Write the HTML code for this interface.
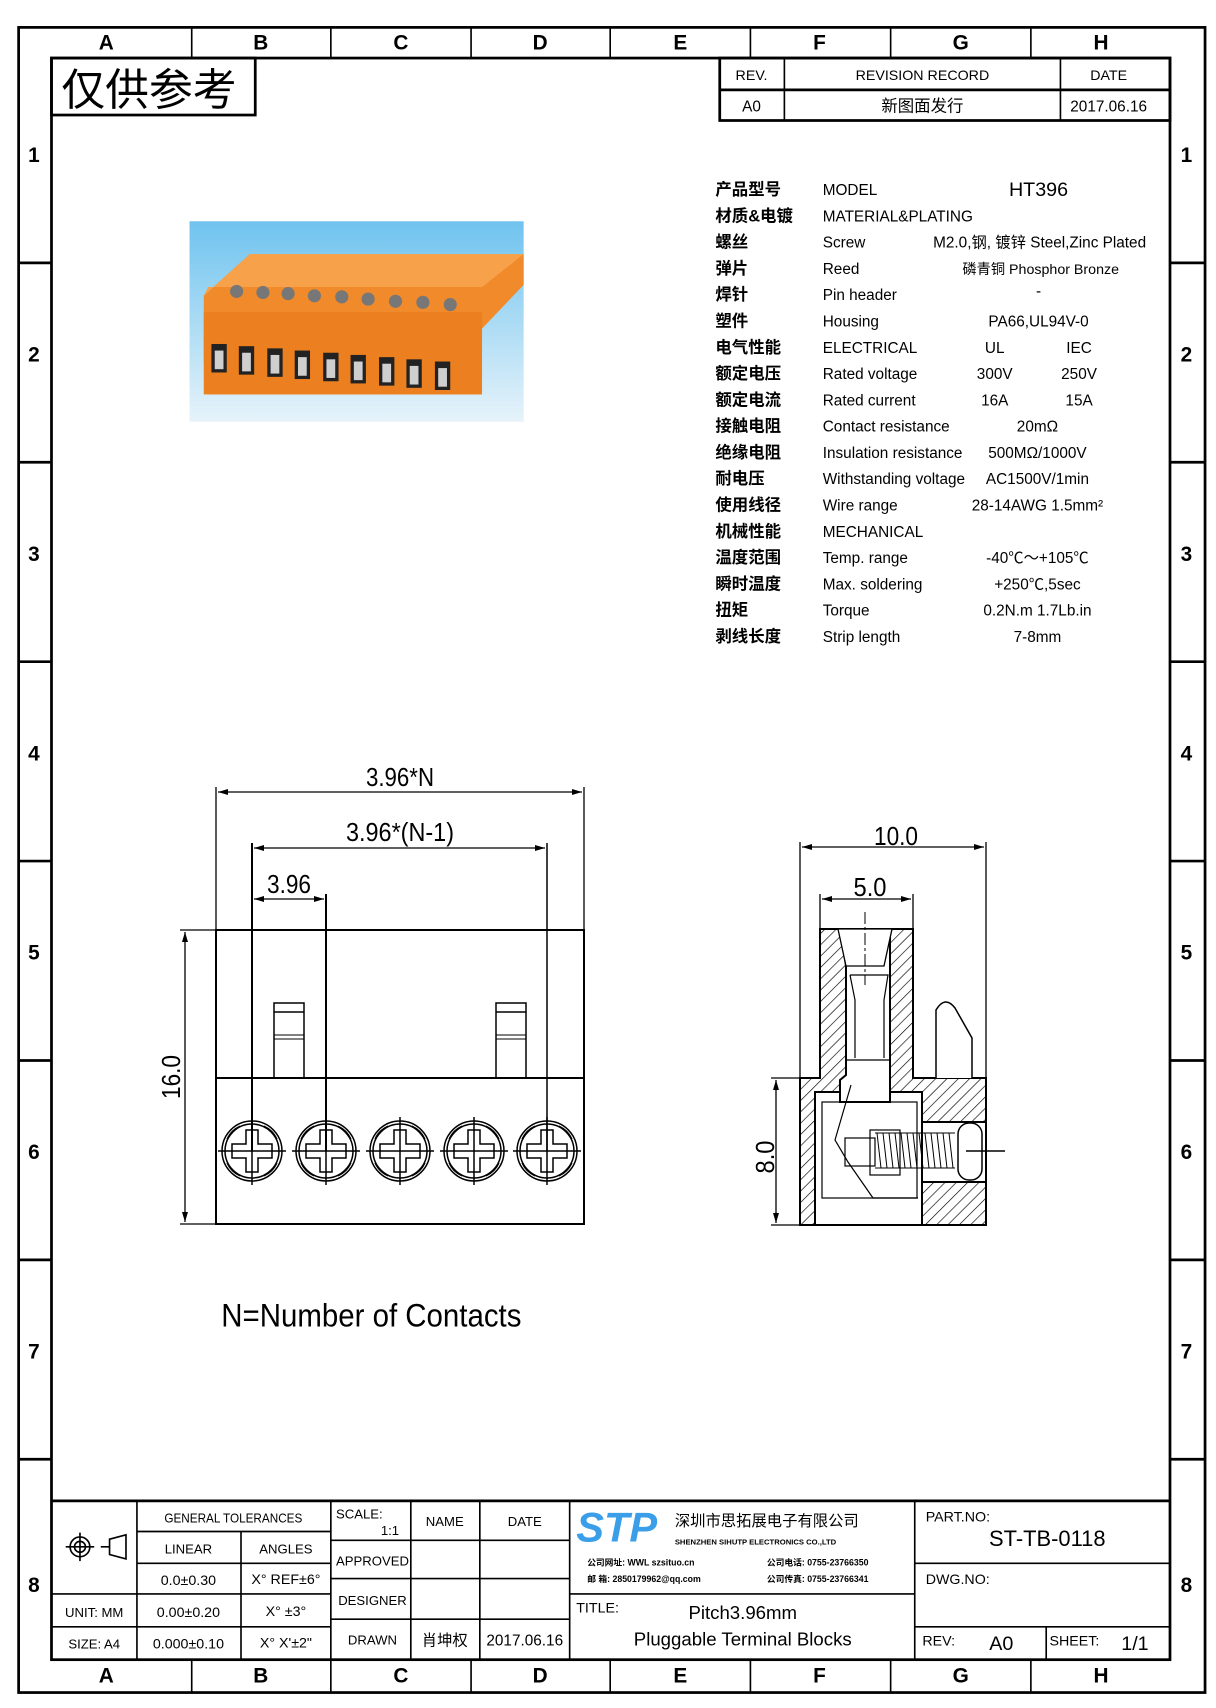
<!DOCTYPE html>
<html><head><meta charset="utf-8"><style>
html,body{margin:0;padding:0;background:#fff;}
svg{display:block;}
text{font-family:"Liberation Sans Narrow","Liberation Sans","Noto Sans CJK SC",sans-serif;fill:#000;}
</style></head><body>
<svg width="1216" height="1708" viewBox="0 0 1216 1708" xmlns="http://www.w3.org/2000/svg">
<defs>
<pattern id="h" width="8" height="8" patternUnits="userSpaceOnUse" patternTransform="rotate(45)">
<line x1="0" y1="0" x2="0" y2="8" stroke="#000" stroke-width="1.3"/></pattern>
<linearGradient id="bg" x1="0" y1="0" x2="0" y2="1"><stop offset="0" stop-color="#6fc3ef"/><stop offset="1" stop-color="#e6f3fa"/></linearGradient>
<marker id="a" markerWidth="10" markerHeight="6" refX="10" refY="3" orient="auto-start-reverse" markerUnits="userSpaceOnUse"><path d="M0,0 L10,3 L0,6z" fill="#000"/></marker>
</defs>
<g transform="scale(1.0955)">
<rect x="17" y="25" width="1083" height="1520" fill="none" stroke="#000" stroke-width="2.5"/>
<rect x="47" y="53" width="1021" height="1462" fill="none" stroke="#000" stroke-width="2.5"/>
<g stroke="#000" stroke-width="1.5">
<line x1="175" y1="25" x2="175" y2="53"/><line x1="302" y1="25" x2="302" y2="53"/><line x1="430" y1="25" x2="430" y2="53"/><line x1="557" y1="25" x2="557" y2="53"/><line x1="685" y1="25" x2="685" y2="53"/><line x1="813" y1="25" x2="813" y2="53"/><line x1="941" y1="25" x2="941" y2="53"/>
<line x1="175" y1="1515" x2="175" y2="1545"/><line x1="302" y1="1515" x2="302" y2="1545"/><line x1="430" y1="1515" x2="430" y2="1545"/><line x1="557" y1="1515" x2="557" y2="1545"/><line x1="685" y1="1515" x2="685" y2="1545"/><line x1="813" y1="1515" x2="813" y2="1545"/><line x1="941" y1="1515" x2="941" y2="1545"/>
</g>
<g stroke="#000" stroke-width="2.5">
<line x1="17" y1="240" x2="47" y2="240"/><line x1="17" y1="422" x2="47" y2="422"/><line x1="17" y1="604" x2="47" y2="604"/><line x1="17" y1="786" x2="47" y2="786"/><line x1="17" y1="968" x2="47" y2="968"/><line x1="17" y1="1150" x2="47" y2="1150"/><line x1="17" y1="1332" x2="47" y2="1332"/>
<line x1="1068" y1="240" x2="1100" y2="240"/><line x1="1068" y1="422" x2="1100" y2="422"/><line x1="1068" y1="604" x2="1100" y2="604"/><line x1="1068" y1="786" x2="1100" y2="786"/><line x1="1068" y1="968" x2="1100" y2="968"/><line x1="1068" y1="1150" x2="1100" y2="1150"/><line x1="1068" y1="1332" x2="1100" y2="1332"/>
</g>
<g font-size="19" font-weight="bold" text-anchor="middle">
<text x="97" y="45">A</text><text x="238" y="45">B</text><text x="366" y="45">C</text><text x="493" y="45">D</text><text x="621" y="45">E</text><text x="748" y="45">F</text><text x="877" y="45">G</text><text x="1005" y="45">H</text>
<text x="97" y="1536">A</text><text x="238" y="1536">B</text><text x="366" y="1536">C</text><text x="493" y="1536">D</text><text x="621" y="1536">E</text><text x="748" y="1536">F</text><text x="877" y="1536">G</text><text x="1005" y="1536">H</text>
<text x="31" y="148">1</text><text x="31" y="330">2</text><text x="31" y="512">3</text><text x="31" y="694">4</text><text x="31" y="876">5</text><text x="31" y="1058">6</text><text x="31" y="1240">7</text><text x="31" y="1453">8</text>
<text x="1083" y="148">1</text><text x="1083" y="330">2</text><text x="1083" y="512">3</text><text x="1083" y="694">4</text><text x="1083" y="876">5</text><text x="1083" y="1058">6</text><text x="1083" y="1240">7</text><text x="1083" y="1453">8</text>
</g>
<rect x="47" y="53" width="186" height="52" fill="none" stroke="#000" stroke-width="2.5"/>
<text x="56" y="96" font-size="40" font-family="Noto Sans CJK SC,sans-serif">仅供参考</text>
<g stroke="#000" stroke-width="2.5" fill="none"><rect x="657" y="53" width="411" height="57"/><line x1="657" y1="82" x2="1068" y2="82"/><line x1="716" y1="53" x2="716" y2="110" stroke-width="1.5"/><line x1="968" y1="53" x2="968" y2="110" stroke-width="1.5"/></g>
<g font-size="13" text-anchor="middle">
<text x="686" y="73">REV.</text><text x="842" y="73">REVISION RECORD</text><text x="1012" y="73">DATE</text>
<text x="686" y="102" font-size="14">A0</text><text x="842" y="102" font-size="15">新图面发行</text><text x="1012" y="102" font-size="14">2017.06.16</text>
</g>
<rect x="173" y="202" width="305" height="183" fill="url(#bg)"/>
<polygon points="186,270 228,232 478,232 478,260 440,300 440,360 190,360 186,330" fill="#f08a2a"/>
<polygon points="186,270 228,232 478,232 440,262 190,262" fill="#f7a24a"/>
<rect x="186" y="285" width="254" height="75" fill="#ec7f1f"/>
<g fill="#222"><rect x="193" y="314" width="14" height="26"/><rect x="218" y="316" width="14" height="26"/><rect x="244" y="318" width="14" height="26"/><rect x="269" y="320" width="14" height="26"/><rect x="295" y="322" width="14" height="26"/><rect x="320" y="324" width="14" height="26"/><rect x="346" y="326" width="14" height="26"/><rect x="371" y="328" width="14" height="26"/><rect x="397" y="330" width="14" height="26"/></g>
<g fill="#cfcfcf"><rect x="196" y="320" width="8" height="17"/><rect x="221" y="322" width="8" height="17"/><rect x="247" y="324" width="8" height="17"/><rect x="272" y="326" width="8" height="17"/><rect x="298" y="328" width="8" height="17"/><rect x="323" y="330" width="8" height="17"/><rect x="349" y="332" width="8" height="17"/><rect x="374" y="334" width="8" height="17"/><rect x="400" y="336" width="8" height="17"/></g>
<g fill="#777"><circle cx="216" cy="266" r="6"/><circle cx="240" cy="267" r="6"/><circle cx="263" cy="268" r="6"/><circle cx="287" cy="270" r="6"/><circle cx="312" cy="271" r="6"/><circle cx="336" cy="273" r="6"/><circle cx="361" cy="275" r="6"/><circle cx="386" cy="276" r="6"/><circle cx="411" cy="278" r="6"/></g>
<g font-size="15" font-weight="bold">
<text x="653" y="178">产品型号</text><text x="653" y="202">材质&amp;电镀</text><text x="653" y="226">螺丝</text><text x="653" y="250">弹片</text><text x="653" y="274">焊针</text><text x="653" y="298">塑件</text><text x="653" y="322">电气性能</text><text x="653" y="346">额定电压</text><text x="653" y="370">额定电流</text><text x="653" y="394">接触电阻</text><text x="653" y="418">绝缘电阻</text><text x="653" y="442">耐电压</text><text x="653" y="466">使用线径</text><text x="653" y="490">机械性能</text><text x="653" y="514">温度范围</text><text x="653" y="538">瞬时温度</text><text x="653" y="562">扭矩</text><text x="653" y="586">剥线长度</text>
</g>
<g font-size="14">
<text x="751" y="178">MODEL</text><text x="751" y="202">MATERIAL&amp;PLATING</text><text x="751" y="226">Screw</text><text x="751" y="250">Reed</text><text x="751" y="274">Pin header</text><text x="751" y="298">Housing</text><text x="751" y="322">ELECTRICAL</text><text x="751" y="346">Rated voltage</text><text x="751" y="370">Rated current</text><text x="751" y="394">Contact resistance</text><text x="751" y="418">Insulation resistance</text><text x="751" y="442">Withstanding voltage</text><text x="751" y="466">Wire range</text><text x="751" y="490">MECHANICAL</text><text x="751" y="514">Temp. range</text><text x="751" y="538">Max. soldering</text><text x="751" y="562">Torque</text><text x="751" y="586">Strip length</text>
</g>
<g font-size="14" text-anchor="middle">
<text x="948" y="179" font-size="18">HT396</text>
<text x="949" y="226">M2.0,钢, 镀锌 Steel,Zinc Plated</text>
<text x="950" y="250" font-size="13">磷青铜 Phosphor Bronze</text>
<text x="948" y="270">-</text>
<text x="948" y="298">PA66,UL94V-0</text>
<text x="908" y="322">UL</text><text x="985" y="322">IEC</text>
<text x="908" y="346">300V</text><text x="985" y="346">250V</text>
<text x="908" y="370">16A</text><text x="985" y="370">15A</text>
<text x="947" y="394">20mΩ</text>
<text x="947" y="418">500MΩ/1000V</text>
<text x="947" y="442">AC1500V/1min</text>
<text x="947" y="466">28-14AWG 1.5mm²</text>
<text x="947" y="514">-40℃～+105℃</text>
<text x="947" y="538">+250℃,5sec</text>
<text x="947" y="562">0.2N.m 1.7Lb.in</text>
<text x="947" y="586">7-8mm</text>
</g>
<text x="202" y="1211" font-size="30" textLength="274" lengthAdjust="spacingAndGlyphs">N=Number of Contacts</text>
</g>

<g stroke="#000" fill="none" stroke-width="2">
<rect x="216" y="930" width="368" height="294"/>
<line x1="216" y1="1078" x2="584" y2="1078"/>
<rect x="274" y="1003" width="30" height="75" stroke-width="1.5"/><line x1="274" y1="1012" x2="304" y2="1012" stroke-width="1.5"/><line x1="274" y1="1035" x2="304" y2="1035" stroke-width="1"/><line x1="274" y1="1039" x2="304" y2="1039" stroke-width="1"/>
<rect x="496" y="1003" width="30" height="75" stroke-width="1.5"/><line x1="496" y1="1012" x2="526" y2="1012" stroke-width="1.5"/><line x1="496" y1="1035" x2="526" y2="1035" stroke-width="1"/><line x1="496" y1="1039" x2="526" y2="1039" stroke-width="1"/>
<g stroke-width="1.3">
<line x1="216" y1="787" x2="216" y2="930"/><line x1="584" y1="787" x2="584" y2="930"/>
<line x1="218" y1="792" x2="582" y2="792" marker-start="url(#a)" marker-end="url(#a)"/>
<line x1="252" y1="843" x2="252" y2="1151" stroke-width="2"/><line x1="547" y1="843" x2="547" y2="1151" stroke-width="1.5"/>
<line x1="254" y1="848" x2="545" y2="848" marker-start="url(#a)" marker-end="url(#a)"/>
<line x1="326" y1="894" x2="326" y2="1151" stroke-width="2"/>
<line x1="254" y1="899" x2="324" y2="899" marker-start="url(#a)" marker-end="url(#a)"/>
<line x1="180" y1="930" x2="216" y2="930"/><line x1="180" y1="1224" x2="216" y2="1224"/>
<line x1="185" y1="932" x2="185" y2="1222" marker-start="url(#a)" marker-end="url(#a)"/>
</g>
</g>
<g font-size="26" text-anchor="middle">
<text x="400" y="786" textLength="68" lengthAdjust="spacingAndGlyphs">3.96*N</text>
<text x="400" y="841" textLength="108" lengthAdjust="spacingAndGlyphs">3.96*(N-1)</text>
<text x="289" y="893" textLength="44" lengthAdjust="spacingAndGlyphs">3.96</text>
<text transform="translate(180,1077) rotate(-90)" textLength="44" lengthAdjust="spacingAndGlyphs">16.0</text>
</g>
<g id="scr" stroke="#000" fill="none" stroke-width="1.5">
<circle cx="252" cy="1151" r="30"/><circle cx="252" cy="1151" r="27"/>
<path d="M246,1130 h12 v14 h14 v14 h-14 v14 h-12 v-14 h-14 v-14 h14 z"/>
<path d="M240,1126 a26,26 0 0 0 -13,13 M264,1126 a26,26 0 0 1 13,13 M240,1176 a26,26 0 0 1 -13,-13 M264,1176 a26,26 0 0 0 13,-13" stroke-width="1.2"/>
<line x1="218" y1="1151" x2="286" y2="1151"/><line x1="252" y1="1117" x2="252" y2="1185"/>
</g>
<use href="#scr" x="74"/><use href="#scr" x="148"/><use href="#scr" x="222"/><use href="#scr" x="295"/>

<g stroke="#000" stroke-width="2">
<path d="M820,929 H913 V1078 H986 V1225 H800 V1078 H820 Z" fill="url(#h)"/>
<path d="M840,929 L846,966 V1075 L840,1080 V1102 H822 V1198 H917 V1102 H890 V929 Z" fill="#fff"/>
<path d="M815,1092 V1225 H922 V1092 H890 V1102 H840 V1092 Z" fill="#fff"/>
<rect x="922" y="1122" width="64" height="60" fill="#fff"/>
<path d="M838,929 H892 L884,966 H846 Z" fill="#fff" stroke-width="1.3"/>
<path d="M936,1078 V1010 Q945,995 955,1008 L972,1038 V1078" fill="#fff" stroke-width="1.5"/>
<line x1="846" y1="1060" x2="890" y2="1060" stroke-width="1.3"/>
<g stroke-width="1.2" fill="none">
<path d="M850,975 H888 L884,1000 V1058 M850,975 L855,1000 V1058"/>
<rect x="822" y="1102" width="95" height="96"/>
<path d="M851,1085 L835,1140 L848,1162 L873,1198 H918"/>
<rect x="845" y="1138" width="30" height="28"/>
<rect x="870" y="1130" width="30" height="45"/>
</g>
<g stroke-width="1">
<path d="M877,1133 l4,35 M883,1133 l4,35 M889,1133 l4,35 M895,1133 l4,35 M901,1133 l4,35 M907,1133 l4,35 M913,1133 l4,35 M919,1133 l4,35 M925,1133 l4,35 M931,1133 l4,35 M937,1133 l4,35 M943,1133 l4,35 M949,1133 l4,35"/>
<line x1="875" y1="1133" x2="955" y2="1133"/><line x1="875" y1="1168" x2="955" y2="1168"/>
</g>
<rect x="958" y="1123" width="24" height="57" rx="11" fill="#fff" stroke-width="1.5"/>
<line x1="966" y1="1151" x2="1005" y2="1151" stroke-width="1.5"/>
<line x1="865" y1="912" x2="865" y2="985" stroke-width="1" stroke-dasharray="12,3,3,3"/>
<g stroke-width="1.3">
<line x1="800" y1="842" x2="800" y2="1078"/><line x1="986" y1="842" x2="986" y2="1078"/>
<line x1="802" y1="847" x2="984" y2="847" marker-start="url(#a)" marker-end="url(#a)"/>
<line x1="820" y1="894" x2="820" y2="929"/><line x1="913" y1="894" x2="913" y2="929"/>
<line x1="822" y1="899" x2="911" y2="899" marker-start="url(#a)" marker-end="url(#a)"/>
<line x1="771" y1="1078" x2="800" y2="1078"/><line x1="771" y1="1225" x2="800" y2="1225"/>
<line x1="776" y1="1080" x2="776" y2="1223" marker-start="url(#a)" marker-end="url(#a)"/>
</g>
</g>
<g font-size="26" text-anchor="middle">
<text x="896" y="845" textLength="44" lengthAdjust="spacingAndGlyphs">10.0</text>
<text x="870" y="896" textLength="33" lengthAdjust="spacingAndGlyphs">5.0</text>
<text transform="translate(774,1157) rotate(-90)" textLength="33" lengthAdjust="spacingAndGlyphs">8.0</text>
</g>

<g transform="scale(1.0955)">
<g stroke="#000" fill="none" stroke-width="2.5">
<line x1="47" y1="1370" x2="1068" y2="1370"/>
<line x1="125" y1="1370" x2="125" y2="1515" stroke-width="1.5"/>
<line x1="302" y1="1370" x2="302" y2="1515" stroke-width="1.5"/>
<line x1="220" y1="1398" x2="220" y2="1515" stroke-width="1.5"/>
<line x1="375" y1="1370" x2="375" y2="1515" stroke-width="1.5"/>
<line x1="438" y1="1370" x2="438" y2="1515" stroke-width="1.5"/>
<line x1="520" y1="1370" x2="520" y2="1515" stroke-width="1.5"/>
<line x1="835" y1="1370" x2="835" y2="1515" stroke-width="1.5"/>
<line x1="955" y1="1485" x2="955" y2="1515" stroke-width="1.5"/>
<g stroke-width="1.5">
<line x1="125" y1="1398" x2="302" y2="1398"/><line x1="125" y1="1427" x2="302" y2="1427"/><line x1="47" y1="1455" x2="302" y2="1455"/><line x1="47" y1="1485" x2="302" y2="1485"/>
<line x1="302" y1="1406" x2="520" y2="1406"/><line x1="302" y1="1441" x2="520" y2="1441"/><line x1="302" y1="1478" x2="520" y2="1478"/>
<line x1="520" y1="1455" x2="835" y2="1455"/>
<line x1="835" y1="1427" x2="1068" y2="1427"/><line x1="835" y1="1485" x2="1068" y2="1485"/>
</g>
</g>
<g stroke="#000" stroke-width="1.5" fill="none">
<circle cx="73" cy="1412" r="9"/><circle cx="73" cy="1412" r="5"/><line x1="60" y1="1412" x2="86" y2="1412"/><line x1="73" y1="1399" x2="73" y2="1425"/>
<path d="M92,1412 H100 M100,1405 L115,1401 V1423 L100,1419 Z"/>
</g>
<g font-size="12" text-anchor="middle">
<text x="213" y="1390" textLength="126" lengthAdjust="spacingAndGlyphs">GENERAL TOLERANCES</text>
<text x="172" y="1418">LINEAR</text><text x="261" y="1418">ANGLES</text>
<text x="172" y="1447" font-size="13">0.0±0.30</text><text x="261" y="1446" font-size="13">X° REF±6°</text>
<text x="86" y="1476">UNIT: MM</text><text x="172" y="1476" font-size="13">0.00±0.20</text><text x="261" y="1475" font-size="13">X° ±3°</text>
<text x="86" y="1505">SIZE: A4</text><text x="172" y="1505" font-size="13">0.000±0.10</text><text x="261" y="1504" font-size="13">X° X'±2"</text>
<text x="328" y="1386">SCALE:</text><text x="356" y="1401">1:1</text>
<text x="406" y="1393">NAME</text><text x="479" y="1393">DATE</text>
<text x="340" y="1429">APPROVED</text><text x="340" y="1465">DESIGNER</text><text x="340" y="1501">DRAWN</text>
<text x="406" y="1502" font-size="14">肖坤权</text><text x="479" y="1502" font-size="14">2017.06.16</text>
</g>
<text x="526" y="1407" font-size="38" font-weight="bold" font-style="italic" style="fill:#3a9ee8" font-family="Liberation Sans,sans-serif">STP</text>
<text x="616" y="1393" font-size="14">深圳市思拓展电子有限公司</text>
<text x="616" y="1410" font-size="7" font-weight="bold">SHENZHEN SIHUTP ELECTRONICS CO.,LTD</text>
<g font-size="8" font-weight="bold">
<text x="536" y="1429">公司网址: WWL szsituo.cn</text><text x="700" y="1429">公司电话: 0755-23766350</text>
<text x="536" y="1444">邮    箱: 2850179962@qq.com</text><text x="700" y="1444">公司传真: 0755-23766341</text>
</g>
<text x="526" y="1472" font-size="13">TITLE:</text>
<text x="678" y="1478" font-size="17" text-anchor="middle" font-family="Liberation Mono,monospace">Pitch3.96mm</text>
<text x="678" y="1502" font-size="17" text-anchor="middle" font-family="Liberation Mono,monospace">Pluggable Terminal Blocks</text>
<text x="845" y="1389" font-size="13">PART.NO:</text>
<text x="956" y="1411" font-size="20" text-anchor="middle">ST-TB-0118</text>
<text x="845" y="1446" font-size="13">DWG.NO:</text>
<text x="842" y="1502" font-size="13">REV:</text><text x="914" y="1506" font-size="18" text-anchor="middle">A0</text>
<text x="958" y="1502" font-size="13">SHEET:</text><text x="1036" y="1506" font-size="18" text-anchor="middle">1/1</text>
</g>
</svg>
</body></html>
